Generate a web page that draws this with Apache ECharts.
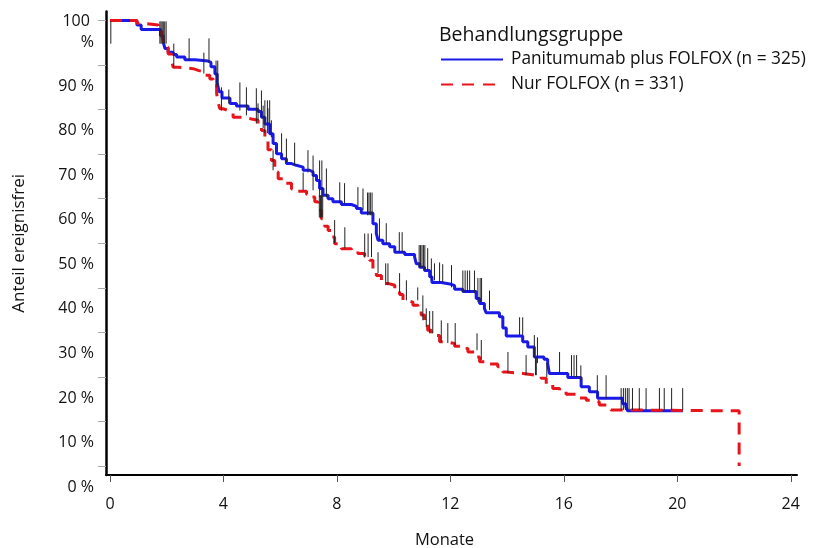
<!DOCTYPE html>
<html><head><meta charset="utf-8">
<script src="https://cdn.jsdelivr.net/npm/echarts@6/dist/echarts.min.js"></script>
<style>html,body{margin:0;padding:0;background:#fff}#c{width:816px;height:548px}</style>
</head><body><div id="c"></div>
<script>
// Kaplan-Meier step data (months, % event-free after the step)
const blueName = 'Panitumumab plus FOLFOX (n = 325)';
const redName = 'Nur FOLFOX (n = 331)';
const blueTimes = [0,0.95,1.1,1.78,1.88,1.94,2.05,2.23,2.35,2.64,3.0,3.46,3.56,3.7,3.78,3.85,3.95,4.23,4.46,4.87,5.22,5.34,5.46,5.63,5.75,5.87,6.05,6.22,6.4,6.57,6.81,7.04,7.16,7.28,7.39,7.51,7.69,7.86,8.16,8.51,8.69,8.86,9.27,9.39,9.45,9.62,9.86,10.04,10.39,10.74,10.8,10.92,11.09,11.27,11.35,11.68,12.03,12.15,12.44,12.91,13.03,13.2,13.26,13.73,13.85,13.97,14.55,14.73,14.96,15.3,15.43,15.49,16.14,16.61,16.9,17.19,18.07,18.19,18.25,20.2];
const blueSurv = [100,99.0,98.0,96.6,95.1,93.7,92.9,92.4,91.8,91.2,90.9,90.6,89.6,88.0,86.0,84.0,82.6,81.4,80.8,80.1,79.6,78.3,76.8,74.6,72.4,70.1,69.0,67.9,67.5,67.1,66.4,66.0,65.2,64.1,62.3,60.8,60.0,59.3,58.7,58.3,57.8,56.8,54.4,52.2,50.7,49.9,49.2,48.0,47.5,46.9,45.4,44.6,43.9,42.5,41.2,40.8,40.5,39.7,39.2,37.6,36.5,35.4,34.4,33.5,31.0,29.2,27.9,26.7,24.5,24.0,23.0,20.8,19.9,17.8,16.7,15.2,14.0,13.3,12.4,12.4];
const redTimes = [0,0.95,1.12,1.7,1.82,1.88,1.94,2.05,2.17,2.23,2.4,2.93,3.11,3.35,3.52,3.64,3.76,3.81,3.87,3.99,4.17,4.34,4.75,4.99,5.22,5.34,5.46,5.57,5.69,5.81,5.93,6.16,6.4,6.63,6.93,7.1,7.22,7.33,7.45,7.57,7.69,7.83,7.92,8.16,8.51,8.74,8.98,9.15,9.27,9.39,9.57,9.8,10.04,10.21,10.33,10.45,10.68,10.86,10.97,11.09,11.2,11.33,11.62,11.85,12.15,12.38,12.62,12.85,13.03,13.38,13.67,13.85,13.97,14.55,14.9,15.2,15.38,15.61,15.85,16.08,16.55,16.79,17.08,17.25,17.55,17.66,17.96,22.18];
const redSurv = [100,99.4,99.0,98.5,97.0,95.5,94.0,92.5,91.0,89.5,89.2,88.8,88.4,87.7,86.9,85.4,83.6,81.7,80.2,79.8,79.4,78.3,77.9,77.6,76.5,75.3,73.8,71.0,68.6,66.0,64.5,63.5,62.2,61.7,61.0,60.4,59.3,57.4,55.5,53.8,52.9,51.4,49.9,48.8,48.3,47.7,47.1,46.2,44.3,42.8,41.0,40.6,39.6,38.5,37.2,36.8,36.1,35.4,33.9,32.0,30.5,29.3,27.9,27.5,26.9,26.4,25.6,24.5,23.4,22.9,22.3,21.1,20.8,20.5,20.2,19.7,18.5,17.4,16.7,16.1,15.3,14.8,14.4,13.7,13.3,12.6,12.4,0];
// Censoring marks: time, lower and upper end (%)
const censorTimes = [0.03,1.76,1.80,1.84,1.88,1.93,1.98,2.25,2.79,3.31,3.49,3.74,3.80,3.93,4.19,4.58,4.81,5.16,5.22,5.34,5.40,5.46,5.55,5.57,5.63,5.69,5.75,6.05,6.22,6.51,6.81,6.98,7.16,7.38,7.39,7.42,7.46,7.47,7.50,7.63,7.92,8.10,8.27,8.28,8.74,8.92,8.98,9.08,9.10,9.13,9.18,9.22,9.24,9.45,9.50,9.72,9.74,9.80,10.20,10.21,10.30,10.45,10.85,10.90,10.95,11.00,11.03,11.05,11.10,11.15,11.20,11.27,11.33,11.38,11.44,11.62,11.68,11.73,11.91,12.04,12.17,12.44,12.52,12.60,12.68,12.85,12.94,12.97,13.05,13.09,13.10,13.38,14.03,14.44,14.55,14.67,14.96,15.00,15.03,15.07,15.40,15.85,16.27,16.36,16.45,16.60,17.18,17.49,18.02,18.10,18.17,18.24,18.30,18.42,18.66,18.90,19.37,19.54,19.80,20.19];
const censorLow = [94.8,94.8,94.8,94.8,94.8,94.8,94.8,89.5,91.0,88.1,90.6,85.0,85.0,79.8,81.4,79.8,78.7,76.9,77.6,78.3,75.8,74.7,74.7,77.0,74.7,73.8,66.4,69.3,68.2,67.5,61.9,65.9,61.9,55.8,60.3,55.8,55.8,60.3,55.8,60.3,50.0,59.0,59.0,48.9,58.1,57.4,46.9,56.3,46.9,56.3,56.3,46.9,56.3,43.3,50.7,40.6,50.0,40.6,48.0,38.8,48.0,37.2,37.2,44.6,44.6,44.6,32.7,44.6,43.9,31.2,43.9,29.8,41.7,29.8,41.7,41.3,27.8,41.3,27.6,40.1,27.1,39.0,39.0,39.0,39.0,38.8,26.0,36.8,36.8,23.8,36.8,35.0,20.9,29.4,29.4,20.4,24.4,20.4,20.4,23.1,20.0,20.9,20.0,20.0,20.0,19.3,15.5,15.2,12.6,12.6,12.6,12.6,12.6,12.6,12.6,12.6,12.6,12.6,12.6,12.6];
const censorHigh = [99.8,99.8,99.8,99.8,99.8,99.8,99.8,94.8,96.0,92.8,96.0,91.0,91.0,85.0,84.5,86.1,85.0,84.8,81.4,84.3,80.9,82.1,82.1,80.3,82.1,77.6,70.9,74.7,73.5,72.6,65.9,70.9,69.7,60.8,68.6,60.8,60.8,68.6,60.8,66.8,55.2,63.7,63.5,53.6,62.6,62.3,52.2,61.4,52.2,61.4,61.4,52.2,61.4,48.0,55.6,45.5,54.5,45.5,52.5,43.3,52.5,41.7,40.1,49.6,49.6,49.6,38.3,49.6,49.6,35.4,48.9,34.8,46.6,34.8,45.5,45.7,32.7,45.3,32.1,45.1,32.1,43.9,43.9,43.9,43.9,43.9,29.8,42.2,42.2,28.3,42.2,39.4,25.6,33.4,33.4,24.9,29.4,24.4,24.4,28.9,23.1,25.6,24.9,24.9,24.9,22.6,20.4,20.4,17.5,17.5,17.5,17.5,17.5,17.5,17.5,17.5,17.5,17.5,17.5,17.5];
const xTicks = [0,4,8,12,16,20,24];
const yTicks = [0,10,20,30,40,50,60,70,80,90,100];

const FONT = '"Open Sans", Lato, sans-serif';
const chart = echarts.init(document.getElementById('c'));
chart.setOption({
  animation: false,
  backgroundColor: '#fff',
  title: {
    text: 'Behandlungsgruppe', left: 439, top: 25, padding: 0,
    textStyle: {fontFamily: FONT, fontSize: 19.5, fontWeight: 'normal', color: '#111'}
  },
  legend: {
    orient: 'vertical', left: 440, top: 51, padding: 0, itemWidth: 62, itemHeight: 14, itemGap: 8,
    itemStyle: {opacity: 0},
    textStyle: {fontFamily: FONT, fontSize: 17.3, color: '#111', padding: [0,0,0,3]},
    data: [{name: blueName}, {name: redName, lineStyle: {type: [12, 9]}}]
  },
  grid: {left: 106, right: 19, top: 11.6, bottom: 73, outerBoundsMode: 'none', containLabel: false},
  xAxis: {
    type: 'value', min: -0.14, max: 24.22,
    name: 'Monate', nameLocation: 'middle', nameGap: 57,
    nameTextStyle: {fontFamily: FONT, fontSize: 16.5, color: '#111', padding: [0,14,0,0]},
    axisLine: {onZero: false, lineStyle: {color: '#000', width: 2}},
    axisTick: {show: true, length: 7, customValues: xTicks, lineStyle: {color: '#555', width: 1}},
    axisLabel: {customValues: xTicks, margin: 21, fontFamily: FONT, fontSize: 16, color: '#111',
                showMinLabel: true, showMaxLabel: true},
    splitLine: {show: false}
  },
  yAxis: {
    type: 'value', min: -2, max: 102,
    name: 'Anteil ereignisfrei', nameLocation: 'middle', nameGap: 78, nameRotate: 90,
    nameTextStyle: {fontFamily: FONT, fontSize: 17, color: '#111'},
    axisLine: {onZero: false, lineStyle: {color: '#000', width: 2.5}},
    axisTick: {show: true, length: 8, customValues: yTicks, lineStyle: {color: '#aaa', width: 1}},
    axisLabel: {
      customValues: yTicks, margin: 12, fontFamily: FONT, fontSize: 16, color: '#111',
      align: 'right', verticalAlign: 'top',
      showMinLabel: true, showMaxLabel: true, hideOverlap: false,
      formatter: v => v === 100 ? '{a|100 }\n{b|%}' : '{b|' + v + ' %}',
      rich: {
        a: {fontFamily: FONT, fontSize: 16, color: '#111', lineHeight: 1},
        b: {fontFamily: FONT, fontSize: 16, color: '#111', lineHeight: 42}
      }
    },
    splitLine: {show: false}
  },
  series: [
    {
      name: blueName, type: 'line', step: 'end', symbol: 'none', z: 3,
      data: blueTimes.map((t, i) => [t, blueSurv[i]]),
      color: '#1a1ae6',
      lineStyle: {color: '#1a1ae6', width: 3}
    },
    {
      name: redName, type: 'line', step: 'end', symbol: 'none', z: 4,
      data: redTimes.map((t, i) => [t, redSurv[i]]),
      color: '#e8141c',
      lineStyle: {color: '#e8141c', width: 3, type: [12, 8]}
    },
    {
      name: 'Zensiert', type: 'custom', z: 5, silent: true,
      data: censorTimes.map((t, i) => [t, censorLow[i], censorHigh[i]]),
      encode: {x: 0, y: [1, 2]},
      renderItem: (params, api) => {
        const a = api.coord([api.value(0), api.value(1)]);
        const b = api.coord([api.value(0), api.value(2)]);
        return {type: 'line', shape: {x1: a[0], y1: a[1], x2: b[0], y2: b[1]},
                style: {stroke: '#222', lineWidth: 1}};
      }
    }
  ]
});
</script></body></html>
